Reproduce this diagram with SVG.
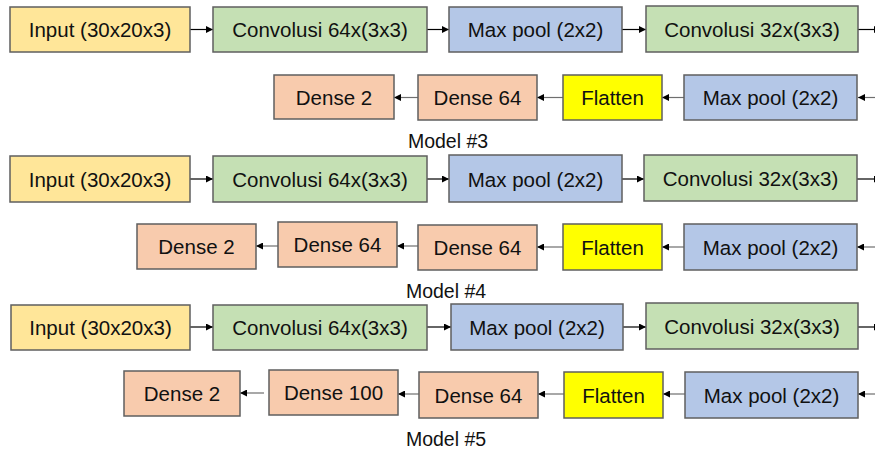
<svg xmlns="http://www.w3.org/2000/svg" width="875" height="452" viewBox="0 0 875 452">
<style>
rect{stroke:#5f5f5f;stroke-width:1.5}
.in{fill:#FFE699}.cv{fill:#C5E0B4}.mp{fill:#B4C7E7}.dn{fill:#F8CBAD}.fl{fill:#FFFF00}
text{font-family:"Liberation Sans",Arial,sans-serif;font-size:20.5px;fill:#111;text-anchor:middle}
.lbl{font-size:19.5px}
.c{stroke:#000;stroke-width:1.2;fill:none;marker-end:url(#ah)}
.g{stroke:#6f6f6f}
</style>
<defs>
<marker id="ah" viewBox="0 0 10 10" refX="10" refY="5" markerWidth="7" markerHeight="7" markerUnits="userSpaceOnUse" orient="auto">
<path d="M0,0 L10,5 L0,10 z" fill="#000"/>
</marker>
</defs>
<rect width="875" height="452" fill="#fff" style="stroke:none"/>
<g id="connectors">
<path class="c" d="M190,29.5H213"/>
<path class="c" d="M427,29.5H449"/>
<path class="c" d="M622,29.5H646"/>
<path class="c" d="M858,29.5H881"/>
<path class="c g" d="M875,97.5H858"/>
<path class="c g" d="M684,97.5H662"/>
<path class="c g" d="M563,97.5H537"/>
<path class="c g" d="M418,97.5H394"/>

<path class="c" d="M190,179H213"/>
<path class="c" d="M427,179H449"/>
<path class="c" d="M622,179H644"/>
<path class="c" d="M857,179H881"/>
<path class="c g" d="M875,247H857"/>
<path class="c g" d="M684,247H662"/>
<path class="c g" d="M563,247H537"/>
<path class="c g" d="M418,246H397"/>
<path class="c g" d="M279,246H256"/>

<path class="c" d="M190,327H213"/>
<path class="c" d="M427,327H451"/>
<path class="c" d="M623,327H646"/>
<path class="c" d="M858,327H881"/>
<path class="c g" d="M875,394H858"/>
<path class="c g" d="M685,394H663"/>
<path class="c g" d="M564,394H538"/>
<path class="c g" d="M419,394H398"/>
<path class="c g" d="M264,393H240"/>
</g>

<g id="m3-input"><rect class="in" x="10" y="7" width="180" height="45"/><text x="100" y="37">Input (30x20x3)</text></g>
<g id="m3-conv64"><rect class="cv" x="213" y="7" width="214" height="45"/><text x="320" y="37">Convolusi 64x(3x3)</text></g>
<g id="m3-maxpool1"><rect class="mp" x="449" y="7" width="173" height="45"/><text x="535.5" y="37">Max pool (2x2)</text></g>
<g id="m3-conv32"><rect class="cv" x="646" y="6" width="212" height="46"/><text x="752" y="37">Convolusi 32x(3x3)</text></g>
<g id="m3-maxpool2"><rect class="mp" x="684" y="75" width="173" height="45"/><text x="770.5" y="105">Max pool (2x2)</text></g>
<g id="m3-flatten"><rect class="fl" x="563" y="75" width="99" height="45"/><text x="612.5" y="105">Flatten</text></g>
<g id="m3-dense64"><rect class="dn" x="418" y="75" width="119" height="45"/><text x="477.5" y="105">Dense 64</text></g>
<g id="m3-dense2"><rect class="dn" x="274" y="75" width="120" height="44"/><text x="334" y="104.5">Dense 2</text></g>
<g id="m3-label"><text class="lbl" x="448" y="147.5">Model #3</text></g>

<g id="m4-input"><rect class="in" x="10" y="156" width="180" height="46"/><text x="100" y="186.5">Input (30x20x3)</text></g>
<g id="m4-conv64"><rect class="cv" x="213" y="156" width="214" height="46"/><text x="320" y="186.5">Convolusi 64x(3x3)</text></g>
<g id="m4-maxpool1"><rect class="mp" x="449" y="155" width="173" height="47"/><text x="535.5" y="186.5">Max pool (2x2)</text></g>
<g id="m4-conv32"><rect class="cv" x="644" y="155" width="213" height="46"/><text x="750.5" y="186">Convolusi 32x(3x3)</text></g>
<g id="m4-maxpool2"><rect class="mp" x="684" y="224" width="173" height="46"/><text x="770.5" y="254.5">Max pool (2x2)</text></g>
<g id="m4-flatten"><rect class="fl" x="563" y="224" width="99" height="46"/><text x="612.5" y="254.5">Flatten</text></g>
<g id="m4-dense64b"><rect class="dn" x="418" y="225" width="119" height="45"/><text x="477.5" y="255">Dense 64</text></g>
<g id="m4-dense64a"><rect class="dn" x="278" y="222" width="119" height="45"/><text x="337.5" y="252">Dense 64</text></g>
<g id="m4-dense2"><rect class="dn" x="137" y="224" width="119" height="45"/><text x="196.5" y="254">Dense 2</text></g>
<g id="m4-label"><text class="lbl" x="446" y="297.5">Model #4</text></g>

<g id="m5-input"><rect class="in" x="11" y="305" width="179" height="45"/><text x="100.5" y="335">Input (30x20x3)</text></g>
<g id="m5-conv64"><rect class="cv" x="213" y="305" width="214" height="45"/><text x="320" y="335">Convolusi 64x(3x3)</text></g>
<g id="m5-maxpool1"><rect class="mp" x="451" y="304" width="172" height="46"/><text x="537" y="334.5">Max pool (2x2)</text></g>
<g id="m5-conv32"><rect class="cv" x="646" y="303" width="212" height="46"/><text x="752" y="333.5">Convolusi 32x(3x3)</text></g>
<g id="m5-maxpool2"><rect class="mp" x="685" y="372" width="173" height="46"/><text x="771.5" y="402.5">Max pool (2x2)</text></g>
<g id="m5-flatten"><rect class="fl" x="564" y="372" width="99" height="46"/><text x="613.5" y="402.5">Flatten</text></g>
<g id="m5-dense64"><rect class="dn" x="419" y="372" width="119" height="46"/><text x="478.5" y="402.5">Dense 64</text></g>
<g id="m5-dense100"><rect class="dn" x="269" y="370" width="129" height="45"/><text x="333.5" y="400">Dense 100</text></g>
<g id="m5-dense2"><rect class="dn" x="124" y="371" width="116" height="45"/><text x="182" y="401">Dense 2</text></g>
<g id="m5-label"><text class="lbl" x="446" y="445.5">Model #5</text></g>
</svg>
